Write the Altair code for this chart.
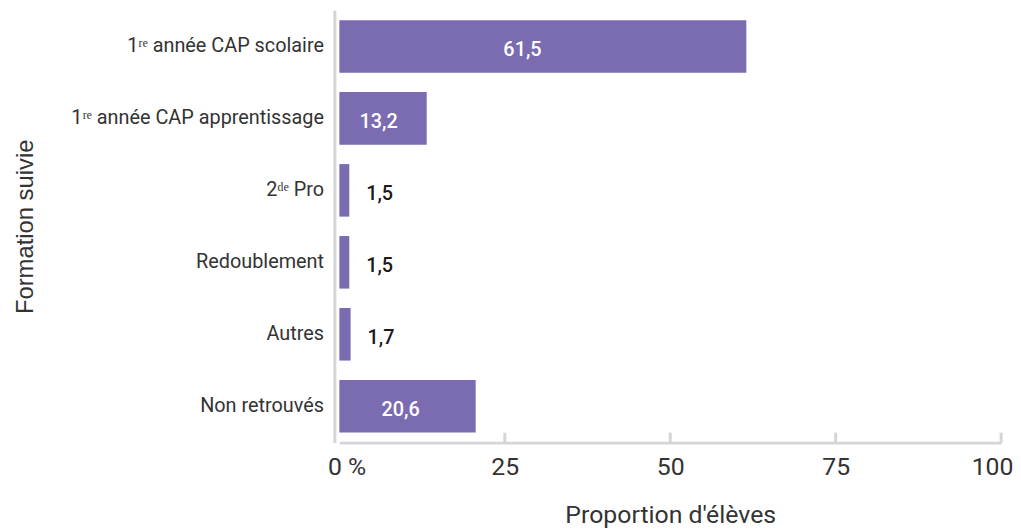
import altair as alt
import pandas as pd

categories = ["1ʳᵉ année CAP scolaire", "1ʳᵉ année CAP apprentissage", "2ᵈᵉ Pro",
              "Redoublement", "Autres", "Non retrouvés"]
values = [61.5, 13.2, 1.5, 1.5, 1.7, 20.6]
x_ticks = [0, 25, 50, 75, 100]

df = pd.DataFrame({"cat": categories, "value": values})
df["label"] = [f"{v:.1f}".replace(".", ",") for v in values]
df["inside"] = df["value"] > 10
ticks_df = pd.DataFrame({"t": x_ticks[1:]})

FONT = "Roboto"
GRAY = "#d5d5d5"
TXT = "#333333"
W, H = 667, 436

xscale = alt.Scale(domain=[0, 100], nice=False)
yscale = alt.Scale(domain=categories, paddingInner=0.27, paddingOuter=0.14)

base = alt.Chart(df)

bars = base.mark_bar(color="#7b6bb0").encode(
    x=alt.X("value:Q", scale=xscale,
            axis=alt.Axis(values=x_ticks, grid=False, ticks=False,
                          domainColor=GRAY, domainWidth=3,
                          labelFlush=True, labelFlushOffset=12,
                          labelExpr="datum.value == 0 ? '0 %' : datum.label",
                          labelFont=FONT, labelFontSize=25, labelColor=TXT,
                          labelPadding=12,
                          title="Proportion d'élèves", titleFont=FONT,
                          titleFontSize=25, titleFontWeight="normal",
                          titleColor=TXT, titlePadding=24)),
    y=alt.Y("cat:N", sort=categories, scale=yscale,
            axis=alt.Axis(ticks=False, domainColor=GRAY, domainWidth=3,
                          offset=5, labelFont=FONT, labelFontSize=20,
                          labelColor=TXT, labelPadding=11, labelLimit=500,
                          title="Formation suivie", titleFont="Liberation Sans",
                          titleFontSize=24, titleFontWeight="normal",
                          titleColor=TXT, titleX=-311, titleY=H / 2,
                          titleAngle=270, titleBaseline="middle",
                          titleAlign="center")),
)

tick_rules = alt.Chart(ticks_df).mark_rule(color=GRAY, strokeWidth=3).encode(
    x=alt.X("t:Q", scale=xscale),
    y=alt.value(H),
    y2=alt.value(H - 10),
)

inside_text = base.transform_filter("datum.inside").transform_calculate(
    mid="datum.value * 0.45"
).mark_text(
    color="white", font=FONT, fontSize=20, fontWeight=500, dy=4
).encode(
    x=alt.X("mid:Q", scale=xscale),
    y=alt.Y("cat:N", sort=categories, scale=yscale),
    text="label:N",
)

outside_text = base.transform_filter("!datum.inside").mark_text(
    color="#1a1a1a", font=FONT, fontSize=20, fontWeight=500, align="left", dx=17, dy=4
).encode(
    x=alt.X("value:Q", scale=xscale),
    y=alt.Y("cat:N", sort=categories, scale=yscale),
    text="label:N",
)

chart = alt.layer(bars, tick_rules, inside_text, outside_text).properties(
    width=W, height=H, background="white",
    padding={"left": 6, "top": 0, "right": 0, "bottom": 0}
).configure_view(strokeWidth=0)

chart.save("out.html", embed_options={"renderer": "svg", "actions": False})
